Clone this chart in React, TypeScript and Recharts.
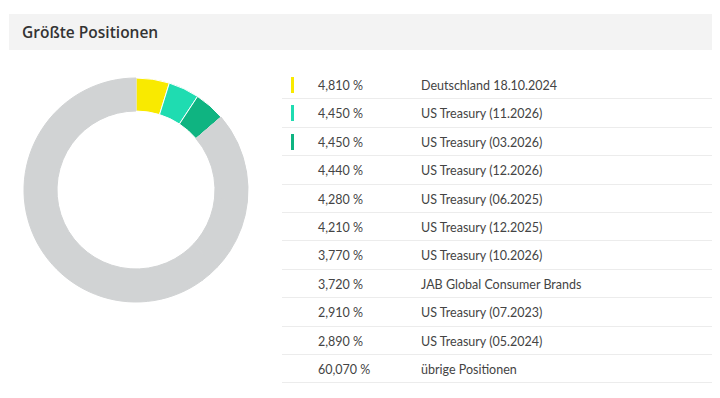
import { PieChart, Pie, Cell } from "recharts"

const names = [
  "Deutschland 18.10.2024",
  "US Treasury (11.2026)",
  "US Treasury (03.2026)",
  "US Treasury (12.2026)",
  "US Treasury (06.2025)",
  "US Treasury (12.2025)",
  "US Treasury (10.2026)",
  "JAB Global Consumer Brands",
  "US Treasury (07.2023)",
  "US Treasury (05.2024)",
  "übrige Positionen",
]
const shares = [4.81, 4.45, 4.45, 4.44, 4.28, 4.21, 3.77, 3.72, 2.91, 2.89, 60.07]
const highlight = ["#f9ea00", "#1fdcb1", "#0fb481"]
const rest = "#d1d3d4"

const data = names.map((name, i) => ({ name, value: shares[i] }))
const colorOf = (i: number) => (i < highlight.length ? highlight[i] : rest)
const fmt = (v: number) => v.toFixed(3).replace(".", ",") + " %"

const font = "Lato, 'Open Sans', sans-serif"

export default function App() {
  return (
    <div
      style={{
        position: "relative",
        margin: "-8px 0 0 -8px",
        width: 720,
        height: 398,
        background: "#fff",
        fontFamily: font,
        overflow: "hidden",
      }}
    >
      <div style={{ position: "absolute", left: 0, top: 0, width: 2, height: 398, background: "#111" }} />
      <div
        style={{
          position: "absolute",
          left: 9,
          top: 14,
          width: 703,
          height: 36,
          background: "#f3f3f3",
          boxSizing: "border-box",
          paddingLeft: 13,
          lineHeight: "36px",
          fontSize: 15.5,
          fontWeight: 600,
          fontFamily: "'Open Sans', sans-serif",
          color: "#333",
        }}
      >
        Größte Positionen
      </div>
      <div style={{ position: "absolute", left: 0, top: 0 }}>
        <PieChart width={280} height={398} margin={{ top: 0, right: 0, bottom: 0, left: 0 }}>
          <Pie
            data={data}
            dataKey="value"
            nameKey="name"
            cx={136}
            cy={190}
            innerRadius={79}
            outerRadius={112}
            startAngle={90}
            endAngle={-270}
            isAnimationActive={false}
          >
            {data.map((_, i) => (
              <Cell
                key={i}
                fill={colorOf(i)}
                stroke={i < highlight.length ? "#fff" : rest}
                strokeWidth={1}
              />
            ))}
          </Pie>
        </PieChart>
      </div>
      <div style={{ position: "absolute", left: 282, top: 71, width: 430 }}>
        {data.map((d, i) => (
          <div
            key={d.name}
            style={{
              position: "relative",
              height: 28.4,
              boxSizing: "border-box",
              borderBottom: "1px solid #ececec",
              fontSize: 12.5,
              color: "#444",
              lineHeight: "30px",
            }}
          >
            {i < highlight.length && (
              <div
                style={{
                  position: "absolute",
                  left: 9,
                  top: 6,
                  width: 3,
                  height: 16,
                  background: highlight[i],
                }}
              />
            )}
            <span style={{ position: "absolute", left: 36 }}>{fmt(d.value)}</span>
            <span style={{ position: "absolute", left: 139 }}>{d.name}</span>
          </div>
        ))}
      </div>
    </div>
  )
}
